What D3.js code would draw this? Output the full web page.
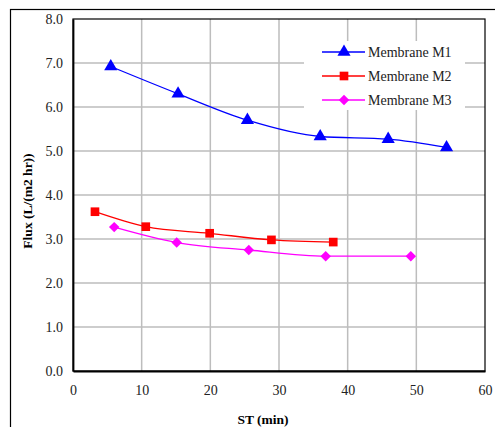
<!DOCTYPE html>
<html>
<head>
<meta charset="utf-8">
<script src="https://cdn.jsdelivr.net/npm/d3@7"></script>
</head>
<body style="margin:0;background:#fff">
<svg id="chart" width="495" height="427" style="font-family:'Liberation Serif'"></svg>
<script>
// data
const m1X = [5.5, 15.3, 25.4, 36.0, 45.9, 54.4];
const m1Y = [6.92, 6.30, 5.70, 5.33, 5.27, 5.08];
const m2X = [3.2, 10.6, 19.9, 28.9, 37.9];
const m2Y = [3.62, 3.28, 3.13, 2.98, 2.93];
const m3X = [6.0, 15.1, 25.6, 36.8, 49.2];
const m3Y = [3.27, 2.92, 2.75, 2.61, 2.61];
const xTicks = [0, 10, 20, 30, 40, 50, 60];
const yTicks = [0, 1, 2, 3, 4, 5, 6, 7, 8];

const FONT = "'Liberation Serif'";

// square turned 45 degrees, as Excel draws its diamond
const diamond = {
  draw(ctx, size) {
    const r = Math.sqrt(size / 2);
    ctx.moveTo(0, -r); ctx.lineTo(r, 0); ctx.lineTo(0, r); ctx.lineTo(-r, 0); ctx.closePath();
  }
};

const series = [
  { name: 'Membrane M1', xs: m1X, ys: m1Y, color: '#0000ff', symbol: d3.symbolTriangle, size: 75 },
  { name: 'Membrane M2', xs: m2X, ys: m2Y, color: '#ff0000', symbol: d3.symbolSquare, size: 75 },
  { name: 'Membrane M3', xs: m3X, ys: m3Y, color: '#ff00ff', symbol: diamond, size: 55 }
];

const svg = d3.select('#chart');
const plotL = 73, plotR = 485, plotT = 19, plotB = 371;

// outer chart border
svg.append('rect')
  .attr('x', 10.5).attr('y', 9.5)
  .attr('width', 500).attr('height', 440)
  .attr('fill', 'none').attr('stroke', '#000').attr('stroke-width', 1.2);

const x = d3.scaleLinear().domain([0, 60]).range([plotL, plotR]);
const y = d3.scaleLinear().domain([0, 8]).range([plotB, plotT]);

// gridlines
const grid = svg.append('g');
grid.selectAll('.hg').data(yTicks.slice(1, -1)).enter().append('line')
  .attr('x1', plotL).attr('x2', plotR)
  .attr('y1', d => y(d)).attr('y2', d => y(d))
  .attr('stroke', '#bdbdbd').attr('stroke-width', 1.5);
grid.selectAll('.vg').data(xTicks.slice(1, -1)).enter().append('line')
  .attr('x1', d => x(d)).attr('x2', d => x(d))
  .attr('y1', plotT).attr('y2', plotB)
  .attr('stroke', '#bdbdbd').attr('stroke-width', 1.5);

// plot frame
svg.append('rect')
  .attr('x', plotL).attr('y', plotT)
  .attr('width', plotR - plotL).attr('height', plotB - plotT)
  .attr('fill', 'none').attr('stroke', '#000').attr('stroke-width', 1.2);

// axes
const xAxis = d3.axisBottom(x).tickValues(xTicks).tickSize(0).tickPadding(14).tickFormat(d3.format('d'));
const yAxis = d3.axisLeft(y).tickValues(yTicks).tickSize(0).tickPadding(10).tickFormat(d3.format('.1f'));

const gx = svg.append('g').attr('transform', 'translate(0,' + plotB + ')').call(xAxis);
const gy = svg.append('g').attr('transform', 'translate(' + plotL + ',0)').call(yAxis);
[gx, gy].forEach(g => {
  g.attr('font-family', null).attr('font-size', null);
  g.select('.domain').attr('stroke', '#000').attr('stroke-width', 1.8);
  g.selectAll('text').attr('fill', '#222')
    .style('font-family', FONT).style('font-size', '14px');
});

// titles
svg.append('text')
  .attr('x', 263).attr('y', 424)
  .attr('text-anchor', 'middle')
  .style('font-family', FONT).style('font-size', '13.5px').style('font-weight', 'bold')
  .text('ST (min)');

svg.append('text')
  .attr('transform', 'translate(32,201) rotate(-90)')
  .attr('text-anchor', 'middle')
  .style('font-family', FONT).style('font-size', '13.5px').style('font-weight', 'bold')
  .text('Flux (L/(m2 hr))');

// lines and markers
const plot = svg.append('g');
series.forEach(s => {
  const pts = s.xs.map((v, i) => [v, s.ys[i]]);
  const line = d3.line()
    .x(d => x(d[0]))
    .y(d => y(d[1]))
    .curve(d3.curveMonotoneX);
  plot.append('path')
    .attr('d', line(pts))
    .attr('fill', 'none')
    .attr('stroke', s.color)
    .attr('stroke-width', 1.3);
  plot.selectAll(null).data(pts).enter().append('path')
    .attr('d', d3.symbol().type(s.symbol).size(s.size))
    .attr('transform', d => 'translate(' + x(d[0]) + ',' + y(d[1]) + ')')
    .attr('fill', s.color);
});

// legend
const legend = svg.append('g');
legend.append('rect')
  .attr('x', 304).attr('y', 41)
  .attr('width', 161).attr('height', 69)
  .attr('fill', '#fff');
series.forEach((s, i) => {
  const ly = 52 + i * 24;
  legend.append('line')
    .attr('x1', 322).attr('x2', 365)
    .attr('y1', ly).attr('y2', ly)
    .attr('stroke', s.color).attr('stroke-width', 1.3);
  legend.append('path')
    .attr('d', d3.symbol().type(s.symbol).size(s.size))
    .attr('transform', 'translate(344,' + ly + ')')
    .attr('fill', s.color);
  legend.append('text')
    .attr('x', 368).attr('y', ly + 5)
    .attr('fill', '#222')
    .style('font-family', FONT).style('font-size', '14px')
    .text(s.name);
});
</script>
</body>
</html>
